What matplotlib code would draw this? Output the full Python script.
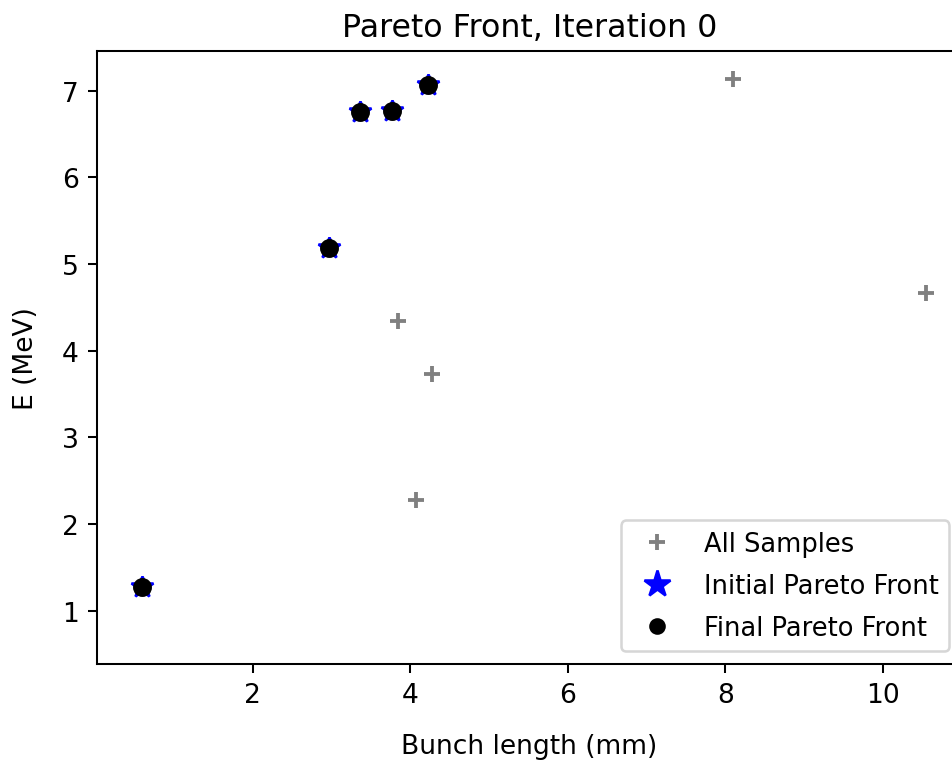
"""Pareto front scatter: bunch length vs energy."""

import matplotlib
matplotlib.use("Agg")
import matplotlib.pyplot as plt
from matplotlib.lines import Line2D

# All evaluated samples (bunch length in mm, energy in MeV)
all_bunch_length = [8.10, 10.54, 3.84, 4.28, 4.07, 0.60, 2.97, 3.36, 3.77, 4.22]
all_energy = [7.14, 4.67, 4.34, 3.73, 2.28, 1.27, 5.18, 6.75, 6.77, 7.07]

# Non-dominated points
front_bunch_length = [0.60, 2.97, 3.36, 3.77, 4.22]
front_energy = [1.27, 5.18, 6.75, 6.77, 7.07]

plt.rcParams["font.size"] = 10.4

DPI = 184
fig = plt.figure(figsize=(953 / DPI, 763 / DPI), dpi=DPI)
ax = fig.add_axes([0.1013, 0.1284, 0.908, 0.8034])

ax.plot(all_bunch_length, all_energy, "+", color="grey", markersize=6,
        markeredgewidth=1.5, linestyle="none")
ax.plot(front_bunch_length, front_energy, "*", color="blue", markersize=9,
        linestyle="none")
ax.plot(front_bunch_length, front_energy, "o", color="black", markersize=6.4,
        linestyle="none")

ax.set_xlim(0.018, 11.0)
ax.set_ylim(0.385, 7.458)
ax.set_xticks([2, 4, 6, 8, 10])
ax.set_yticks([1, 2, 3, 4, 5, 6, 7])

ax.set_title("Pareto Front, Iteration 0", fontsize=12.4)
ax.set_xlabel("Bunch length (mm)", labelpad=10)
ax.set_ylabel("E (MeV)", labelpad=9)

handles = [
    Line2D([], [], marker="+", color="grey", markersize=6, markeredgewidth=1.5,
           linestyle="none"),
    Line2D([], [], marker="*", color="blue", markersize=11, linestyle="none"),
    Line2D([], [], marker="o", color="black", markersize=5.5, linestyle="none"),
]
ax.legend(handles, ["All Samples", "Initial Pareto Front", "Final Pareto Front"],
          loc="lower right", fontsize=10.1, labelspacing=0.62)

fig.savefig("out.png", dpi=DPI)
